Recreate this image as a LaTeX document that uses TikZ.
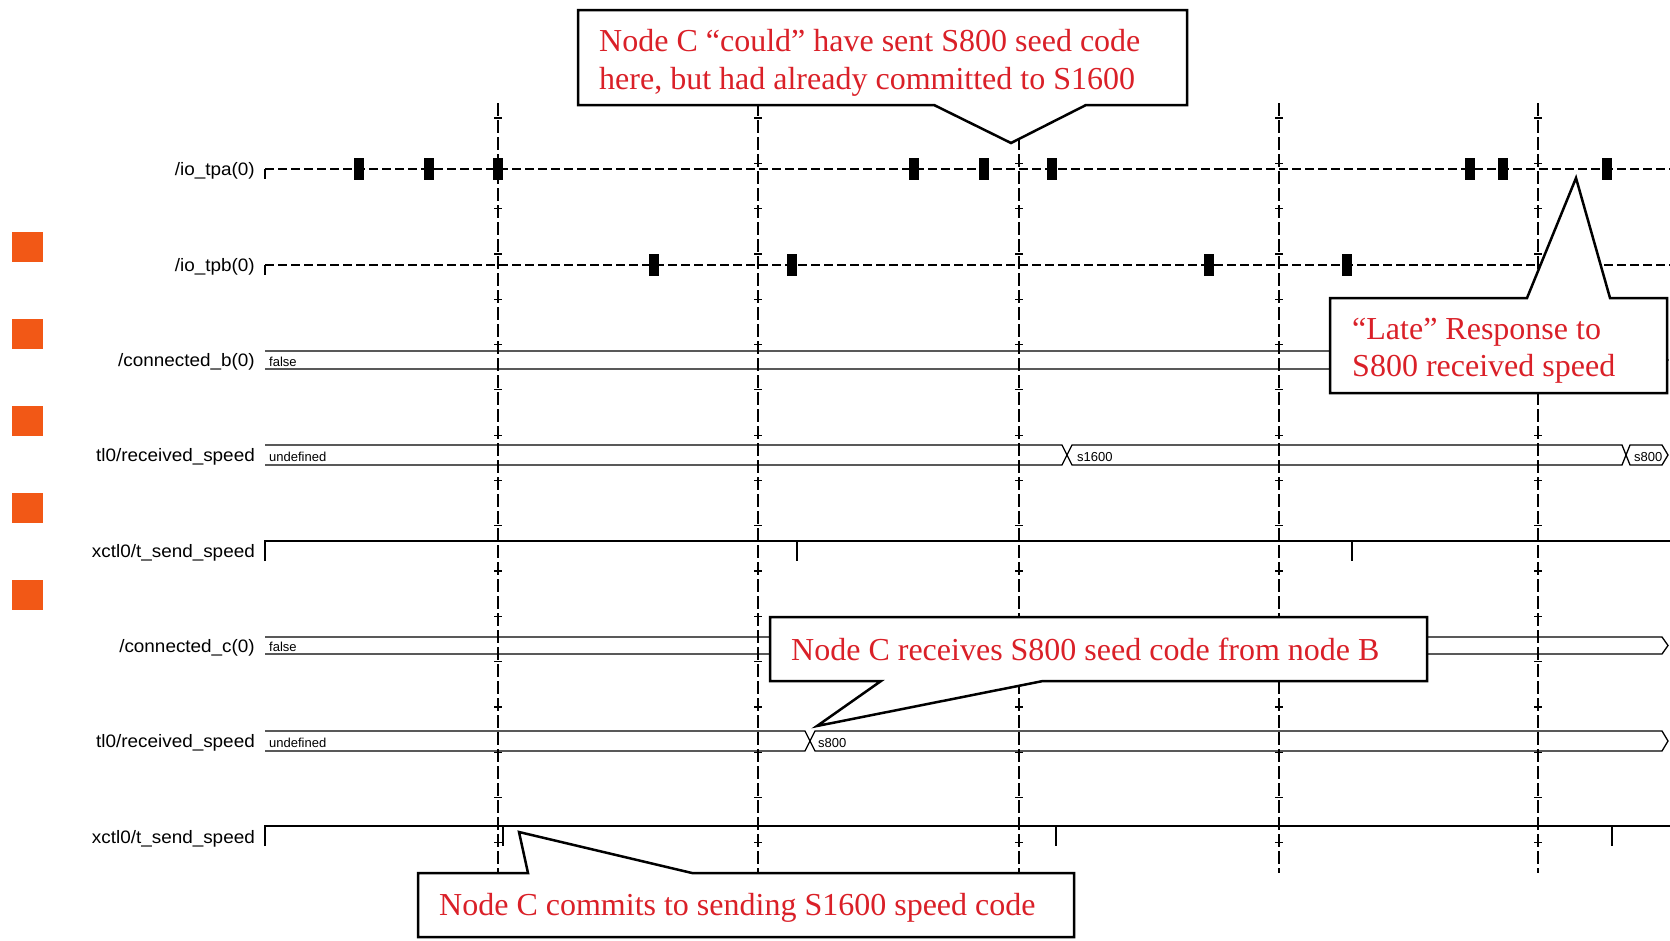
\documentclass[tikz,border=0pt]{standalone}
\usepackage{fontspec}
\setmainfont{Liberation Serif}
\newfontfamily\sigfont[FakeStretch=1.05]{Liberation Sans}
\newfontfamily\valfont[FakeStretch=1.0]{Liberation Sans}
\definecolor{calred}{RGB}{218,32,40}
\definecolor{orangesq}{RGB}{242,88,22}
\begin{document}
\begin{tikzpicture}[x=1pt,y=-1pt,
  siglabel/.style={font=\sigfont\fontsize{18}{18}\selectfont, anchor=east, inner sep=0pt},
  val/.style={font=\valfont\fontsize{13}{13}\selectfont, anchor=base west, inner sep=0pt},
  sigline/.style={line width=1.3pt, dash pattern=on 9pt off 4pt},
  busline/.style={line width=1.3pt},
  gridline/.style={line width=1.5pt, dash pattern=on 13pt off 4pt},
  gtick/.style={line width=1.2pt},
  pulse/.style={fill=black},
  callout/.style={draw=black, fill=white, line width=2.5pt, line join=miter},
  calltext/.style={font=\fontsize{32}{38}\selectfont, text=calred, anchor=base west, inner sep=0pt},
  sq/.style={fill=orangesq}
]
\useasboundingbox (0,0) rectangle (1670,940);
\fill[white] (0,0) rectangle (1670,940);

% orange bullets
\foreach \y in {232,319,406,493,580} \fill[sq] (12,\y) rectangle (43,\y+30);

% signal labels
\node[siglabel] (l1) at (255,171) {/io\_tpa(0)};
\node[siglabel] (l2) at (255,267) {/io\_tpb(0)};
\node[siglabel] (l3) at (255,362) {/connected\_b(0)};
\node[siglabel] (l4) at (255,457) {tl0/received\_speed};
\node[siglabel] (l5) at (255,553) {xctl0/t\_send\_speed};
\node[siglabel] (l6) at (255,648) {/connected\_c(0)};
\node[siglabel] (l7) at (255,743) {tl0/received\_speed};
\node[siglabel] (l8) at (255,839) {xctl0/t\_send\_speed};

% io_tpa
\draw[sigline] (265,169) -- (1670,169);
\draw[busline] (265,169) -- (265,179);
\foreach \x in {359,429,498,914,984,1052,1470,1503,1607} \fill[pulse] (\x-5,158) rectangle (\x+5,180);
% io_tpb
\draw[sigline] (265,265) -- (1670,265);
\draw[busline] (265,265) -- (265,275);
\foreach \x in {654,792,1209,1347} \fill[pulse] (\x-5,254) rectangle (\x+5,276);

% connected_b
\draw[busline] (265,351) -- (1662,351) -- (1668,360) -- (1662,369) -- (265,369);
\node[val] (v1) at (269,366) {false};

% received speed B
\draw[busline] (265,445) -- (1062,445) -- (1072,465) -- (1622,465) -- (1630,445) -- (1662,445) -- (1668,455) -- (1662,465) -- (1630,465) -- (1622,445) -- (1072,445) -- (1062,465) -- (265,465);
\node[val] (v2) at (269,461) {undefined};
\node[val] (v3) at (1077,461) {s1600};
\node[val] (v4) at (1634,461) {s800};

% t_send_speed B
\draw[busline] (265,561) -- (265,541) -- (1670,541);
\draw[busline] (797,541) -- (797,561);
\draw[busline] (1352,541) -- (1352,561);

% connected_c
\draw[busline] (265,637) -- (1662,637) -- (1668,645.5) -- (1662,654) -- (265,654);
\node[val] (v5) at (269,651) {false};

% received speed C
\draw[busline] (265,731) -- (805,731) -- (815,751) -- (1662,751) -- (1668,741) -- (1662,731) -- (815,731) -- (805,751) -- (265,751);
\node[val] (v6) at (269,747) {undefined};
\node[val] (v7) at (818,747) {s800};

% t_send_speed C
\draw[busline] (265,846) -- (265,826) -- (1670,826);
\draw[busline] (503,826) -- (503,846);
\draw[busline] (1056,826) -- (1056,846);
\draw[busline] (1612,826) -- (1612,846);

% grid
\foreach \x in {498,758,1019,1279,1538} {
  \draw[gridline] (\x,103) -- (\x,873);
  \foreach \k in {0,...,16} \draw[gtick] (\x-4,118+45.3*\k) -- (\x+4,118+45.3*\k);
}

% callouts
\draw[callout] (578,10) -- (1187,10) -- (1187,105) -- (1086,105) -- (1011,143) -- (934,105) -- (578,105) -- cycle;
\node[calltext] (c1a) at (599,51) {Node C “could” have sent S800 seed code};
\node[calltext] (c1b) at (599,89) {here, but had already committed to S1600};

\draw[callout] (1330,298) -- (1527,298) -- (1576,178) -- (1610,298) -- (1667,298) -- (1667,393) -- (1330,393) -- cycle;
\node[calltext] (c2a) at (1352,339) {“Late” Response to};
\node[calltext] (c2b) at (1352,376) {S800 received speed};

\draw[callout] (770,617) -- (1427,617) -- (1427,681) -- (1043,681) -- (817,726) -- (881,681) -- (770,681) -- cycle;
\node[calltext] (c3) at (791,660) {Node C receives S800 seed code from node B};

\draw[callout] (418,873) -- (528,873) -- (519,832) -- (692,873) -- (1074,873) -- (1074,937) -- (418,937) -- cycle;
\node[calltext] (c4) at (439,915) {Node C commits to sending S1600 speed code};
\end{tikzpicture}
\end{document}
